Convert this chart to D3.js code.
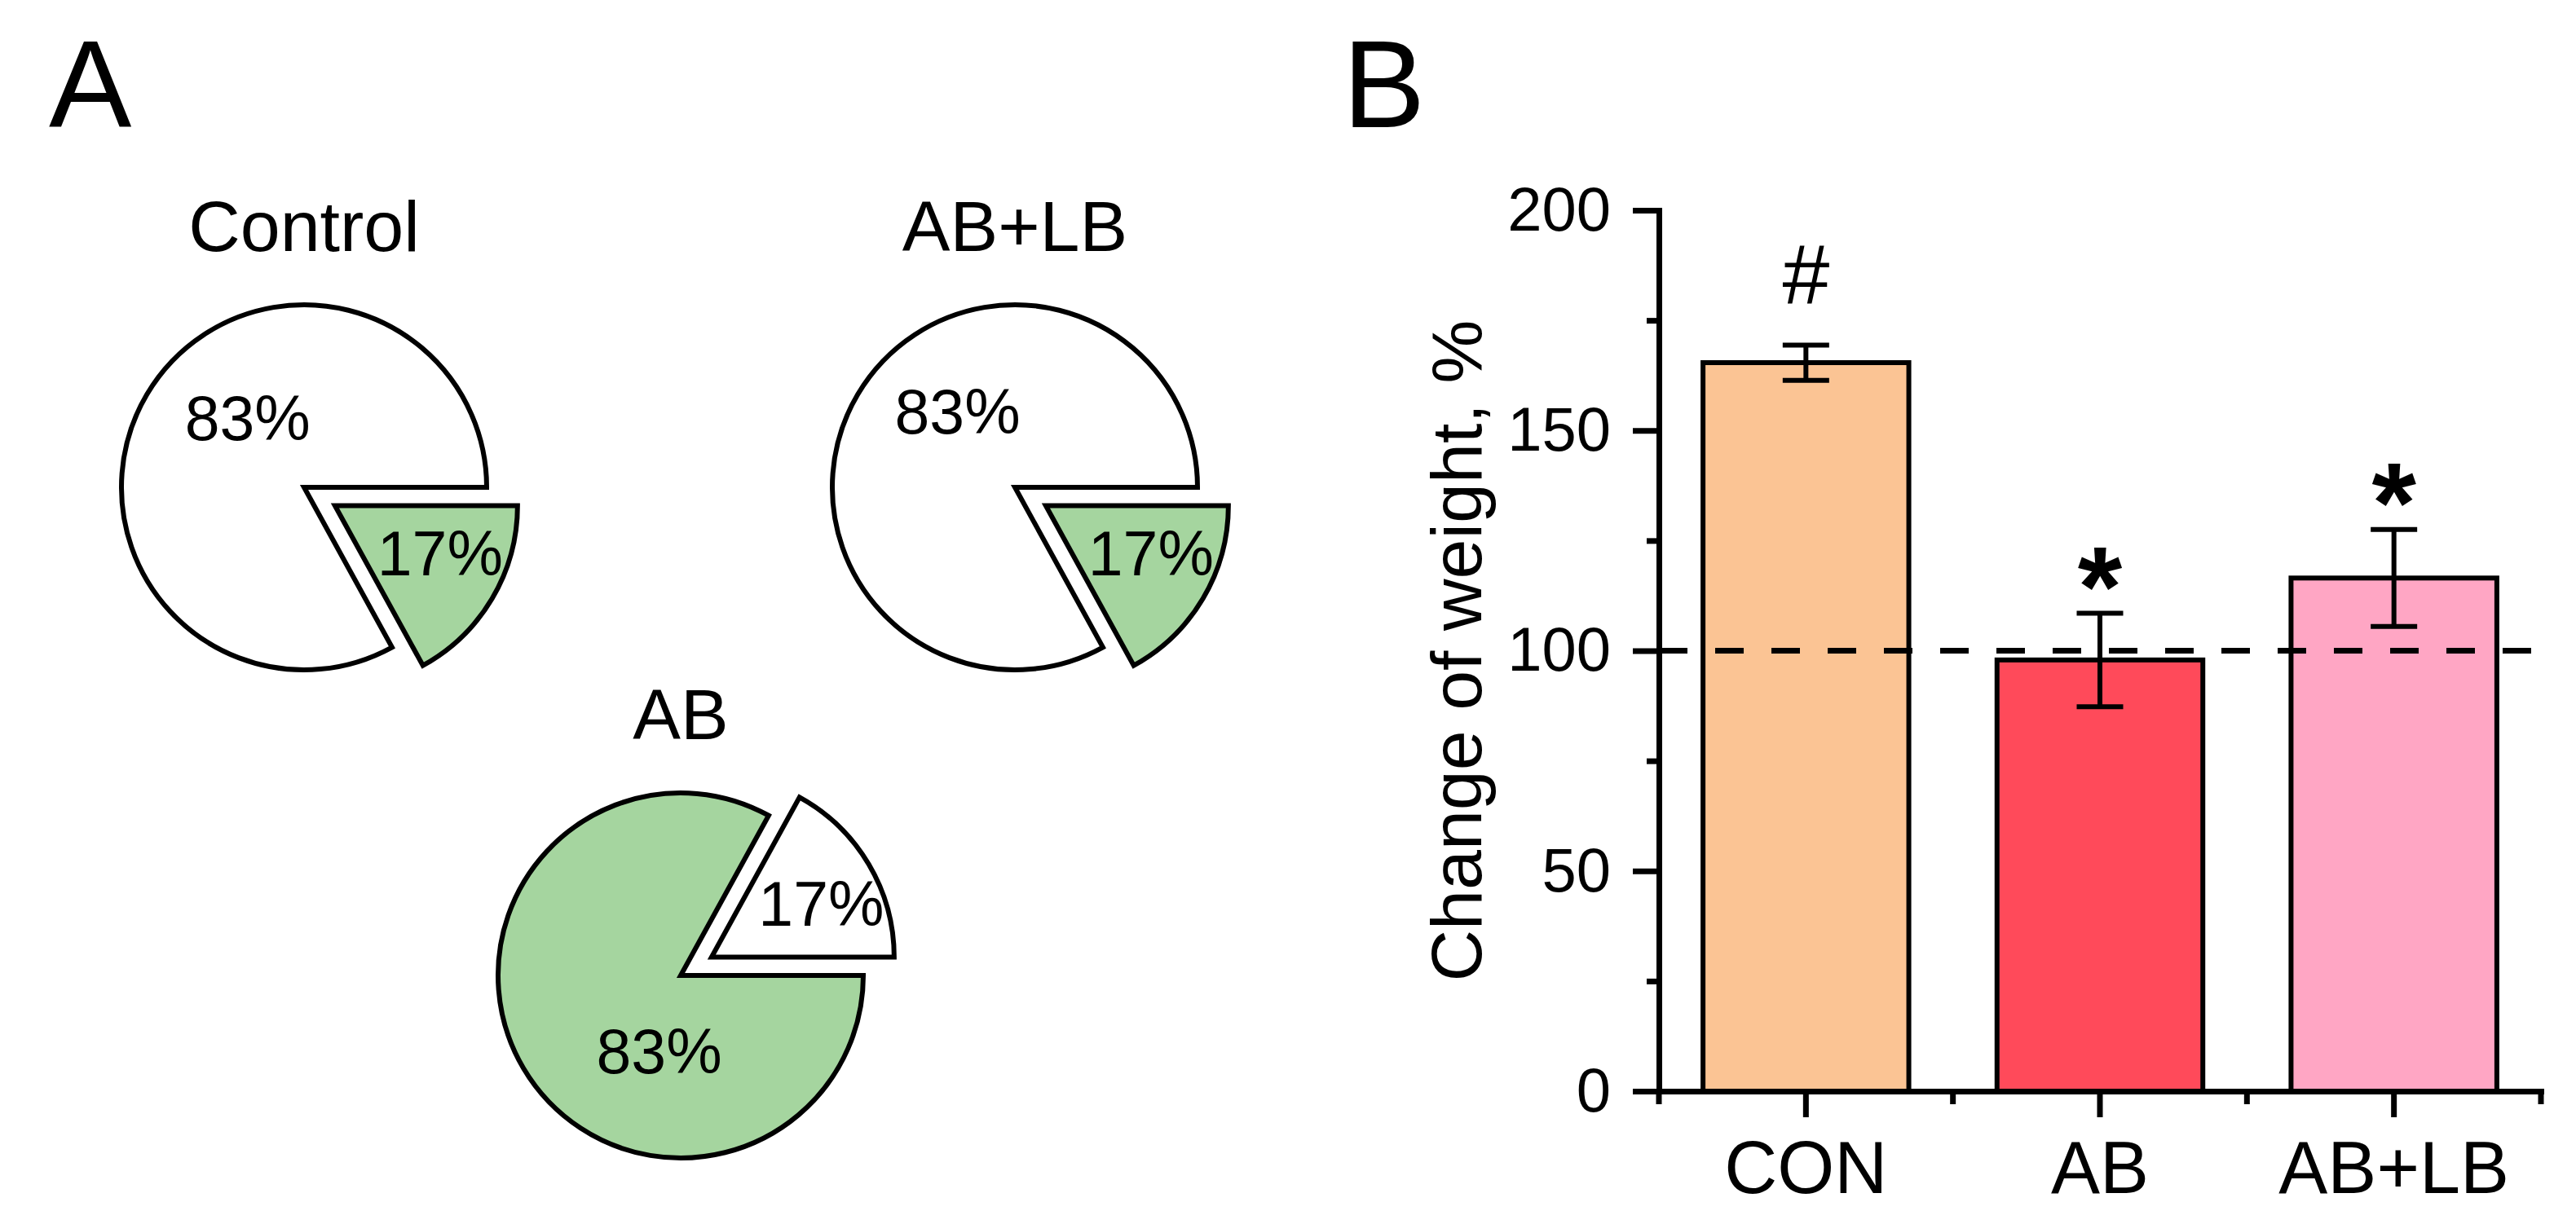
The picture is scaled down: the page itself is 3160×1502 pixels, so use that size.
<!DOCTYPE html>
<html>
<head>
<meta charset="utf-8">
<script src="https://d3js.org/d3.v7.min.js"></script>
<style>
  body { margin: 0; background: #fff; }
  text { font-family: "Liberation Sans", Arial, sans-serif; fill: #000; }
</style>
</head>
<body>
<script>
// ---- data ----
// panel A: survival pies, first slice white, second green
var pieTitles = ["Control", "AB+LB", "AB"];
var pieShares = [[83, 17], [83, 17], [17, 83]];
var sliceFills = ["#ffffff", "#a5d59f"];

// panel B: change of weight (%), mean and error
var groups = ["CON", "AB", "AB+LB"];
var weightMean = [165.4, 97.9, 116.5];
var weightErr = [4.0, 10.6, 11.0];
var marks = ["#", "*", "*"];
var barFills = ["#fbc494", "#ff4a5a", "#ffa6c4"];
var yTicks = [0, 50, 100, 150, 200];
var yMinor = [25, 75, 125, 175];
var refLevel = 100;

// ---- canvas ----
var W = 3160, H = 1502;
var svg = d3.select("body").append("svg")
    .attr("width", W)
    .attr("height", H);

// panel letters
svg.append("text").attr("x", 60).attr("y", 156).attr("font-size", 152).text("A");
svg.append("text").attr("x", 1647).attr("y", 156).attr("font-size", 152).text("B");

// ---- panel A: pies ----
// where each pie sits, and where its labels go (polar: degrees clockwise from 12, radius)
var pieLayout = [
    {cx: 373, cy: 598, labels: [[321, 110], [115.6, 185]]},
    {cx: 1245, cy: 598, labels: [[323, 117], [115.6, 185]]},
    {cx: 835, cy: 1197, labels: [[62.7, 194], [196, 96]]}
];
var radius = 224, explode = 44, titleGap = 66;

// counterclockwise from 3 o'clock, like Origin does it
var pie = d3.pie().sort(null)
    .startAngle(Math.PI / 2)
    .endAngle(Math.PI / 2 - 2 * Math.PI);
var arc = d3.arc().innerRadius(0).outerRadius(radius);

pieTitles.forEach(function(title, p) {
    var lay = pieLayout[p];
    var g = svg.append("g")
        .attr("transform", "translate(" + lay.cx + "," + lay.cy + ")");

    g.append("text")
        .attr("y", -radius - titleGap)
        .attr("text-anchor", "middle")
        .attr("font-size", 88)
        .text(title);

    var smallest = d3.min(pieShares[p]);
    var slices = pie(pieShares[p]);

    g.selectAll("path")
        .data(slices)
        .enter().append("path")
        .attr("d", arc)
        .attr("fill", function(d, i) { return sliceFills[i]; })
        .attr("stroke", "#000")
        .attr("stroke-width", 6)
        .attr("stroke-linejoin", "miter")
        .attr("transform", function(d) {
            // pull the small slice out along its bisector
            if (d.value != smallest) return null;
            var mid = (d.startAngle + d.endAngle) / 2;
            return "translate(" + (Math.sin(mid) * explode) + "," + (-Math.cos(mid) * explode) + ")";
        });

    g.selectAll("text.pct")
        .data(slices)
        .enter().append("text")
        .attr("class", "pct")
        .attr("x", function(d, i) { return Math.sin(lay.labels[i][0] * Math.PI / 180) * lay.labels[i][1]; })
        .attr("y", function(d, i) { return -Math.cos(lay.labels[i][0] * Math.PI / 180) * lay.labels[i][1]; })
        .attr("dy", "0.36em")
        .attr("text-anchor", "middle")
        .attr("font-size", 77)
        .text(function(d) { return d.value + "%"; });
});

// ---- panel B: bars ----
var y = d3.scaleLinear()
    .domain([0, 200])
    .range([1339, 258]);

var x = d3.scaleBand()
    .domain(groups)
    .range([2035, 3117])
    .paddingInner(0.3)
    .paddingOuter(0.15);

var chart = svg.append("g");

chart.selectAll("rect.bar")
    .data(groups)
    .enter().append("rect")
    .attr("class", "bar")
    .attr("x", function(d) { return x(d); })
    .attr("width", x.bandwidth())
    .attr("y", function(d, i) { return y(weightMean[i]); })
    .attr("height", function(d, i) { return y(0) - y(weightMean[i]); })
    .attr("fill", function(d, i) { return barFills[i]; })
    .attr("stroke", "#000")
    .attr("stroke-width", 6);

// error bars
var capW = 57;
var err = chart.selectAll("g.err")
    .data(groups)
    .enter().append("g")
    .attr("class", "err")
    .attr("stroke", "#000")
    .attr("transform", function(d) { return "translate(" + (x(d) + x.bandwidth() / 2) + ",0)"; });

err.append("line")
    .attr("y1", function(d, i) { return y(weightMean[i] - weightErr[i]); })
    .attr("y2", function(d, i) { return y(weightMean[i] + weightErr[i]); });
err.append("line")
    .attr("x1", -capW / 2).attr("x2", capW / 2)
    .attr("y1", function(d, i) { return y(weightMean[i] + weightErr[i]); })
    .attr("y2", function(d, i) { return y(weightMean[i] + weightErr[i]); });
err.append("line")
    .attr("x1", -capW / 2).attr("x2", capW / 2)
    .attr("y1", function(d, i) { return y(weightMean[i] - weightErr[i]); })
    .attr("y2", function(d, i) { return y(weightMean[i] - weightErr[i]); });

// significance marks above the error bars
chart.selectAll("text.mark")
    .data(groups)
    .enter().append("text")
    .attr("class", "mark")
    .attr("x", function(d) { return x(d) + x.bandwidth() / 2; })
    .attr("y", function(d, i) {
        var top = y(weightMean[i] + weightErr[i]);
        // asterisk ink floats above the baseline, hash sits on it
        return marks[i] == "*" ? top + 15 : top - 50;
    })
    .attr("text-anchor", "middle")
    .attr("font-size", function(d, i) { return marks[i] == "*" ? 140 : 104; })
    .attr("font-weight", function(d, i) { return marks[i] == "*" ? "bold" : "normal"; })
    .text(function(d, i) { return marks[i]; });

// dashed 100% line
chart.append("line")
    .attr("x1", x.range()[0])
    .attr("x2", x.range()[1])
    .attr("y1", y(refLevel))
    .attr("y2", y(refLevel))
    .attr("stroke", "#000")
    .attr("stroke-width", 6)
    .attr("stroke-dasharray", "35,34");

// y axis, major then minor ticks
var yAxis = chart.append("g")
    .attr("transform", "translate(" + x.range()[0] + ",0)")
    .call(d3.axisLeft(y).tickValues(yTicks).tickSize(32).tickSizeOuter(0).tickPadding(27));
yAxis.attr("font-size", 76).attr("font-family", null);

chart.append("g")
    .attr("transform", "translate(" + x.range()[0] + ",0)")
    .call(d3.axisLeft(y).tickValues(yMinor).tickSize(15).tickFormat(""))
    .select(".domain").remove();

// x axis, ticks at group centres and short ones at the band edges
var xAxis = chart.append("g")
    .attr("transform", "translate(0," + y(0) + ")")
    .call(d3.axisBottom(x).tickSize(32).tickSizeOuter(0).tickPadding(29));
xAxis.attr("font-size", 90).attr("font-family", null);

var edges = groups.map(function(d) { return x(d) - (x.step() - x.bandwidth()) / 2; });
edges.push(x.range()[1]);
chart.append("g")
    .attr("transform", "translate(0," + y(0) + ")")
    .selectAll("line")
    .data(edges)
    .enter().append("line")
    .attr("x1", function(d) { return d; })
    .attr("x2", function(d) { return d; })
    .attr("y1", 0)
    .attr("y2", 16)
    .attr("stroke", "#000");

chart.selectAll(".domain, .tick line, g line")
    .attr("stroke-width", 7);
chart.selectAll(".domain").attr("stroke-linecap", "square");
chart.selectAll("g.err line").attr("stroke-width", 6);

// y axis title
chart.append("text")
    .attr("transform", "translate(1817," + ((y.range()[0] + y.range()[1]) / 2) + ") rotate(-90)")
    .attr("text-anchor", "middle")
    .attr("font-size", 88)
    .text("Change of weight, %");
</script>
</body>
</html>
